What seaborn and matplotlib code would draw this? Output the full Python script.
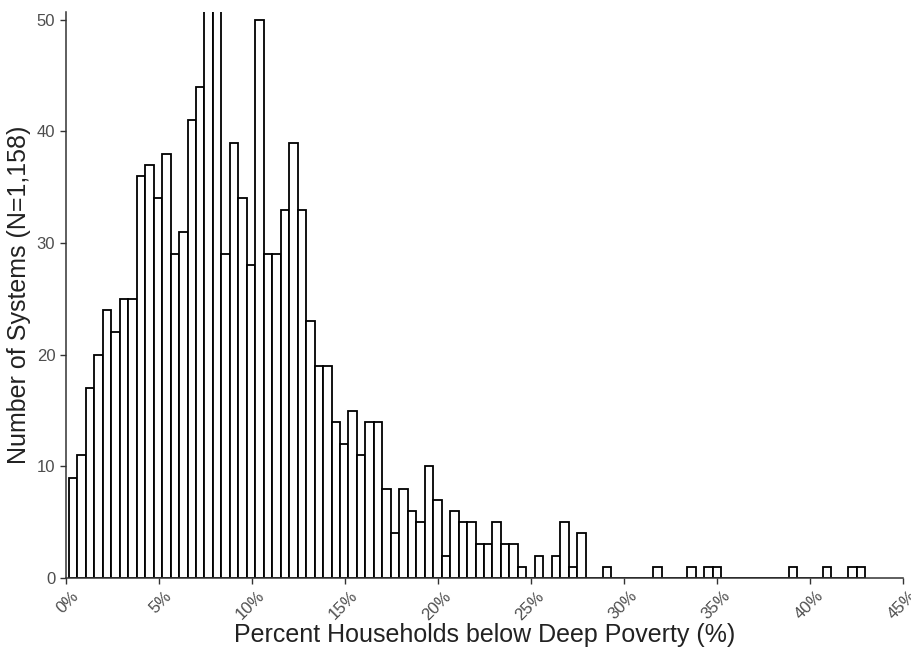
import numpy as np
import pandas as pd
import matplotlib
matplotlib.use("Agg")
from matplotlib import pyplot as plt
from matplotlib import transforms
import seaborn as sns

# histogram counts per bin (bins 0.455% wide, first bin starts near 0.18%)
counts = [
    9, 11, 17, 20, 24, 22, 25, 25, 36, 37,
    34, 38, 29, 31, 41, 44, 62, 62, 29, 39,
    34, 28, 50, 29, 29, 33, 39, 33, 23, 19,
    19, 14, 12, 15, 11, 14, 14, 8, 4, 8,
    6, 5, 10, 7, 2, 6, 5, 5, 3, 3,
    5, 3, 3, 1, 0, 2, 0, 2, 5, 1,
    4, 0, 0, 1, 0, 0, 0, 0, 0, 1,
    0, 0, 0, 1, 0, 1, 1, 0, 0, 0,
    0, 0, 0, 0, 0, 1, 0, 0, 0, 1,
    0, 0, 1, 1,
]
bin_start = 0.177
bin_width = 0.455

x_ticks = [0, 5, 10, 15, 20, 25, 30, 35, 40, 45]
x_labels = ["0%", "5%", "10%", "15%", "20%", "25%", "30%", "35%", "40%", "45%"]
y_ticks = [0, 10, 20, 30, 40, 50]

edges = bin_start + bin_width * np.arange(len(counts) + 1)
df = pd.DataFrame({"pct": (edges[:-1] + edges[1:]) / 2, "n": counts})

sns.set_theme(style="ticks")
plt.rcParams["font.family"] = ["Liberation Sans", "DejaVu Sans"]

fig = plt.figure(figsize=(9.11, 6.55), dpi=100)
ax = fig.add_axes([0.0721, 0.1176, 0.9195, 0.8641])

sns.histplot(data=df, x="pct", weights="n", bins=list(edges), ax=ax,
             color="white", edgecolor="black", linewidth=1.3, alpha=1)

ax.set_xlim(0, 45)
ax.set_ylim(0, 50.7)
ax.set_xticks(x_ticks)
ax.set_xticklabels(x_labels, rotation=45, ha="right", va="top",
                   rotation_mode="anchor")
ax.set_yticks(y_ticks)
ax.tick_params(axis="both", labelsize=12, labelcolor="#4d4d4d",
               color="#333333", length=4, width=1)

# nudge rotated labels a little to the right, as in the original
shift = transforms.ScaledTranslation(5 / 100, 0, fig.dpi_scale_trans)
for lab in ax.get_xticklabels():
    lab.set_transform(lab.get_transform() + shift)

for side in ["top", "right"]:
    ax.spines[side].set_visible(False)
for side in ["left", "bottom"]:
    ax.spines[side].set_color("#333333")
    ax.spines[side].set_linewidth(1.1)

ax.set_xlabel("Percent Households below Deep Poverty (%)", fontsize=18,
              color="#222222", labelpad=0)
ax.set_ylabel("Number of Systems (N=1,158)", fontsize=18,
              color="#222222", labelpad=4)

fig.savefig("out.png", dpi=100)
